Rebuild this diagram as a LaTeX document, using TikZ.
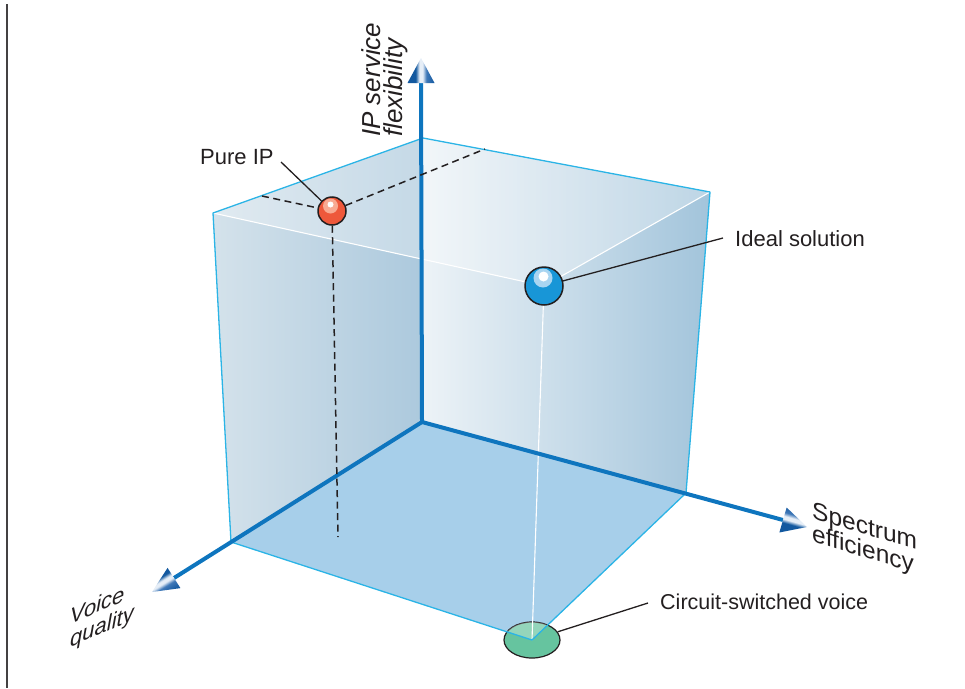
\documentclass[tikz,border=0pt]{standalone}
\usepackage{fontspec}
\setmainfont{Liberation Sans}
\usetikzlibrary{shapes.geometric,calc}
\definecolor{axisblue}{HTML}{0E75BE}
\definecolor{edgecyan}{HTML}{2BB4E6}
\definecolor{floorblue}{HTML}{A7CFEA}
\definecolor{wallLa}{HTML}{D4E2EB}
\definecolor{wallLb}{HTML}{ACC9DD}
\definecolor{wallRa}{HTML}{EDF3F7}
\definecolor{wallRb}{HTML}{A2C4DB}
\definecolor{coneDark}{HTML}{12589F}
\definecolor{coneMid}{HTML}{3F78B8}
\definecolor{coneLight}{HTML}{E6EEF7}
\definecolor{pureRed}{HTML}{EE583B}
\definecolor{pureLight}{HTML}{F8AA92}
\definecolor{idealBlue}{HTML}{1896D7}
\definecolor{idealLight}{HTML}{A9D5F1}
\definecolor{csvGreen}{HTML}{66C49F}
\definecolor{txt}{HTML}{231F20}
\pgfdeclarehorizontalshading{conesh}{100bp}{color(0bp)=(coneDark); color(25bp)=(coneDark); color(40bp)=(coneDark); color(47bp)=(coneLight); color(53bp)=(coneLight); color(60bp)=(coneMid); color(75bp)=(coneDark); color(100bp)=(coneDark)}
\newcommand\tightlines{\lineskiplimit-50pt\relax}
\tikzset{
 axisline/.style={axisblue, line width=4pt},
 cubeedge/.style={edgecyan, line width=1.3pt, line join=round},
 inneredge/.style={white, line width=1.1pt},
 dashline/.style={txt, line width=1.5pt, dash pattern=on 7pt off 4.5pt},
 leader/.style={txt, line width=1.3pt},
 ball/.style={circle, draw=txt, line width=1.5pt, inner sep=0pt},
 lbl/.style={text=txt, inner sep=0pt, font=\fontsize{22}{26}\selectfont},
 axlbl/.style={text=txt, inner sep=0pt, align=left},
 cone/.style={shading=conesh},
}
\begin{document}
\begin{tikzpicture}[x=1pt,y=-1pt]
\useasboundingbox (0,0) rectangle (965,688);
% cube corners
\coordinate (O) at (422,422);
\coordinate (T) at (423,138);
\coordinate (L) at (213,213);
\coordinate (BL) at (231,542);
\coordinate (R) at (710,192);
\coordinate (BR) at (686,493);
\coordinate (F) at (544,286);
\coordinate (FB) at (532,640);
% walls and floor
\shade[left color=wallLa, right color=wallLb] (T) -- (L) -- (BL) -- (O) -- cycle;
\shade[left color=wallRa, right color=wallRb] (T) -- (R) -- (BR) -- (O) -- cycle;
\fill[floorblue] (O) -- (BL) -- (FB) -- (BR) -- cycle;
% circuit-switched ellipse
\node[ellipse, draw=txt, line width=1.2pt, fill=csvGreen, minimum width=56pt, minimum height=36pt, inner sep=0pt] (csv) at (FB) {};
\begin{scope}
 \clip (O) -- (BL) -- (FB) -- (BR) -- cycle;
 \fill[white, opacity=0.3] (FB) ellipse [x radius=28pt, y radius=18pt];
\end{scope}
% top face
\fill[white, opacity=0.3] (L) -- (T) -- (R) -- (F) -- cycle;
\draw[inneredge] (L) -- (F) -- (R);
\draw[inneredge] (F) -- (FB);
\draw[cubeedge] (BL) -- (L) -- (T) -- (R) -- (BR) -- (FB) -- cycle;
% axes
\coordinate (Vbase) at (421,83); \coordinate (Vtip) at (421,58);
\coordinate (Sbase) at (783,520); \coordinate (Stip) at (807,527);
\coordinate (Qbase) at (174,578); \coordinate (Qtip) at (152,592);
\draw[axisline] (O) -- (Vbase);
\draw[axisline] (O) -- (Sbase);
\draw[axisline] (O) -- (Qbase);
\shade[cone, shading angle=0] ($(Vbase)!13.5pt!90:(Vtip)$) -- (Vtip) -- ($(Vbase)!13.5pt!-90:(Vtip)$) -- cycle;
\shade[cone, shading angle=74] ($(Sbase)!13pt!90:(Stip)$) -- (Stip) -- ($(Sbase)!13pt!-90:(Stip)$) -- cycle;
\shade[cone, shading angle=-58] ($(Qbase)!12pt!90:(Qtip)$) -- (Qtip) -- ($(Qbase)!12pt!-90:(Qtip)$) -- cycle;
% balls
\node[ball, minimum size=28pt, fill=pureRed] (pure) at (332,211) {};
\fill[pureLight] (330.5,206) circle (7.5pt);
\fill[white] (330.5,204.5) circle (3pt);
\node[ball, minimum size=38pt, fill=idealBlue] (ideal) at (F) {};
\fill[idealLight] (543,278) circle (9.5pt);
\fill[white] (543.5,276.5) circle (5pt);
% dashed projections
\coordinate (dA) at (262,196);
\coordinate (dB) at (485,149);
\coordinate (dC) at (338,537);
\draw[dashline] (dA) -- (pure);
\draw[dashline] (pure) -- (dB);
\draw[dashline] (pure) -- (dC);
% labels
\node[lbl, anchor=base west] (pureL) at (200,164) {Pure IP};
\node[lbl, anchor=base west] (idealL) at (735,246) {Ideal solution};
\node[lbl, anchor=base west, font={\fontsize{21.5}{26}\selectfont}] (csvL) at (660,609) {Circuit-switched voice};
\coordinate (pureLe) at (281,162);
\coordinate (idealLe) at (723,238);
\coordinate (csvLe) at (648,603);
\draw[leader] (pureLe) -- (pure);
\draw[leader] (idealLe) -- (ideal);
\draw[leader] (csvLe) -- (csv);
% axis labels
\node[axlbl, rotate=90, anchor=north west, font={\itshape\fontsize{26}{22}\selectfont\tightlines}] (ipL) at (361,137) {IP service\\flexibility};
\node[axlbl, yslant=-0.3, anchor=north west, font={\fontsize{24.5}{23.5}\selectfont\tightlines}] (specL) at (812,501) {Spectrum\\efficiency};
\node[axlbl, yslant=0.43, anchor=north west, font={\itshape\fontsize{22}{23}\selectfont\tightlines}] (voiceL) at (70,608) {Voice\\quality};
% left rule
\coordinate (ruleTop) at (7,4);
\coordinate (ruleBot) at (7,688);
\draw[txt!85, line width=1.6pt] (ruleTop) -- (ruleBot);
\end{tikzpicture}
\end{document}
